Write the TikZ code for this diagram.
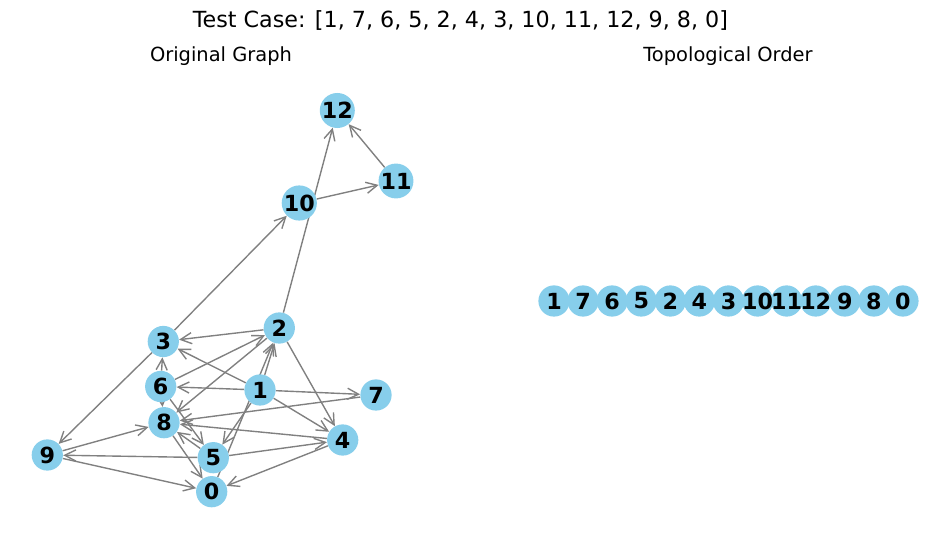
\documentclass[tikz,border=0pt]{standalone}
\usepackage{fontspec}
\setmainfont{DejaVu Sans}
\usetikzlibrary{arrows.meta}
\definecolor{skyblue}{RGB}{135,206,235}
\definecolor{edgegray}{RGB}{128,128,128}
\pgfdeclarelayer{edges}
\pgfsetlayers{edges,main}
\tikzset{
  vtx/.style={circle, fill=skyblue, draw=none, inner sep=0pt, minimum size=22.5pt,
    font=\fontsize{16}{16}\selectfont\bfseries, text=black},
  dot/.style={circle, fill=skyblue, draw=none, inner sep=0pt, minimum size=22.5pt},
  lbl/.style={inner sep=0pt, font=\fontsize{16}{16}\selectfont\bfseries, text=black},
  edge/.style={draw=edgegray, line width=1pt, -{Straight Barb[length=8pt,width=8pt]}},
  ttl/.style={inner sep=0pt, anchor=base, font=\fontsize{14}{14}\selectfont},
  sttl/.style={inner sep=0pt, anchor=base, font=\fontsize{16}{16}\selectfont}
}
\begin{document}
\begin{tikzpicture}[x=0.72pt, y=-0.72pt]
\useasboundingbox (0,0) rectangle (950,542);
% titles
\node[sttl] (sup) at (460.5,28) {Test Case: [1, 7, 6, 5, 2, 4, 3, 10, 11, 12, 9, 8, 0]};
\node[ttl] (tl) at (221,62) {Original Graph};
\node[ttl] (tr) at (728,62) {Topological Order};
% original graph nodes
\node[vtx] (n12) at (337.3,110.5) {12};
\node[vtx] (n11) at (396,181) {11};
\node[vtx] (n10) at (299.3,203) {10};
\node[vtx] (n2) at (279.3,328) {2};
\node[vtx] (n3) at (163.3,341.5) {3};
\node[vtx] (n6) at (160.7,386.5) {6};
\node[vtx] (n1) at (260,390) {1};
\node[vtx] (n7) at (376,395) {7};
\node[vtx] (n8) at (164,422.7) {8};
\node[vtx] (n4) at (342.7,440) {4};
\node[vtx] (n9) at (47.3,455) {9};
\node[vtx] (n5) at (213.3,457.7) {5};
\node[vtx] (n0) at (211.7,491.7) {0};
\begin{pgfonlayer}{edges}
\draw[edge] (n1) -- (n2);
\draw[edge] (n1) -- (n3);
\draw[edge] (n1) -- (n4);
\draw[edge] (n1) -- (n5);
\draw[edge] (n1) -- (n6);
\draw[edge] (n1) -- (n7);
\draw[edge] (n0) -- (n2);
\draw[edge] (n2) -- (n3);
\draw[edge] (n2) -- (n4);
\draw[edge] (n2) -- (n8);
\draw[edge] (n2) -- (n12);
\draw[edge] (n3) -- (n9);
\draw[edge] (n3) -- (n10);
\draw[edge] (n4) -- (n0);
\draw[edge] (n4) -- (n8);
\draw[edge] (n5) -- (n4);
\draw[edge] (n5) -- (n8);
\draw[edge] (n5) -- (n9);
\draw[edge] (n6) -- (n2);
\draw[edge] (n6) -- (n3);
\draw[edge] (n6) -- (n5);
\draw[edge] (n6) -- (n8);
\draw[edge] (n7) -- (n8);
\draw[edge] (n9) -- (n0);
\draw[edge] (n9) -- (n8);
\draw[edge] (n8) -- (n0);
\draw[edge] (n10) -- (n11);
\draw[edge] (n11) -- (n12);
\end{pgfonlayer}
% topological order
\foreach \i/\v in {0/1,1/7,2/6,3/5,4/2,5/4,6/3,7/10,8/11,9/12,10/9,11/8,12/0} {
  \node[dot] (t\v) at ({554+\i*29.08},301) {};
}
\foreach \v in {1,7,6,5,2,4,3,10,11,12,9,8,0} {
  \node[lbl] (tl\v) at (t\v) {\v};
}
\end{tikzpicture}
\end{document}
